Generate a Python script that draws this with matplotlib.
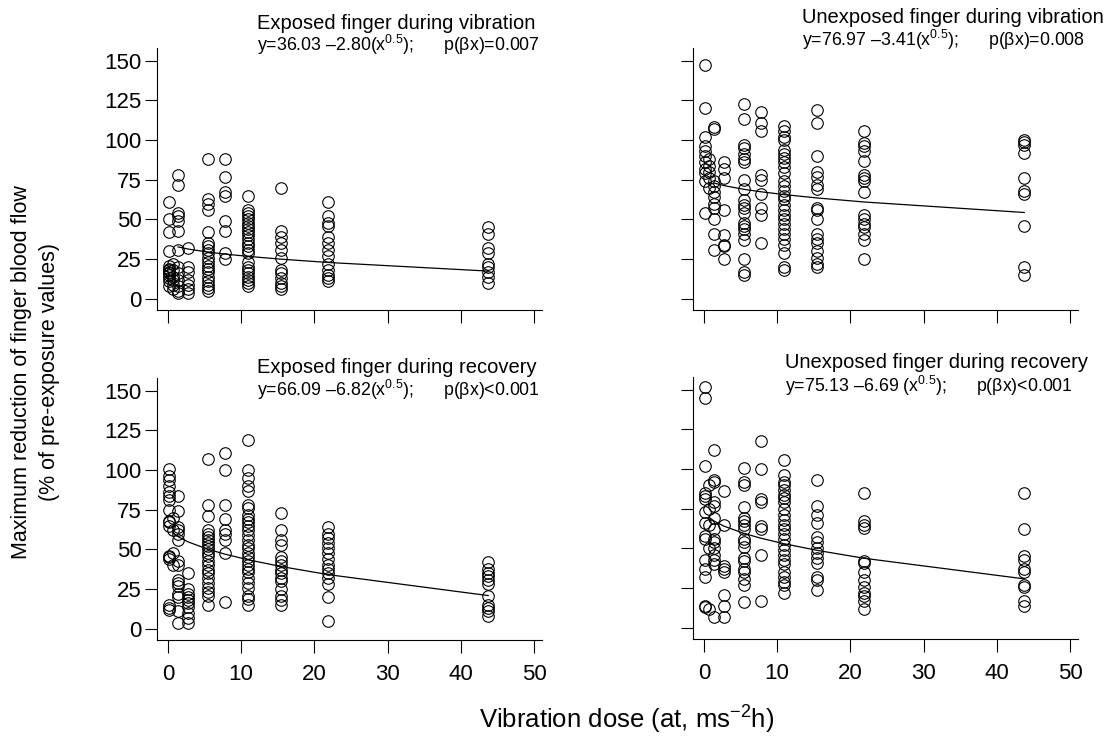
import matplotlib
matplotlib.use("Agg")
import matplotlib.pyplot as plt
import numpy as np

plt.rcParams['font.family'] = ['Liberation Sans', 'DejaVu Sans']
plt.rcParams['mathtext.fontset'] = 'custom'
plt.rcParams['mathtext.rm'] = 'Liberation Sans'
plt.rcParams['mathtext.it'] = 'Liberation Sans:italic'

# Dose levels (at, ms-2 h)
doses = [0.2, 0.68, 1.37, 2.74, 5.47, 7.74, 10.94, 15.47, 21.88, 43.75]

# Max reduction of finger blood flow (%) per dose level
exp_vib = [
    [61, 50, 42, 30, 21, 19, 18, 17, 16, 15, 13, 11, 8],
    [22, 18, 14, 12, 9, 6],
    [78, 72, 54, 52, 49, 43, 31, 20, 16, 12, 8, 5, 4],
    [32, 20, 17, 12, 9, 6, 4],
    [88, 63, 60, 56, 42, 35, 33, 31, 29, 26, 23, 21, 19, 17, 14, 11, 9, 7, 5],
    [88, 77, 67, 65, 49, 43, 29, 25],
    [65, 56, 54, 52, 50, 48, 46, 44, 42, 40, 38, 35, 33, 31, 29, 23, 20, 18, 16, 14, 12, 10, 8],
    [70, 43, 39, 35, 31, 26, 18, 16, 13, 10, 8, 6],
    [61, 52, 48, 46, 39, 35, 31, 27, 22, 18, 15, 13, 11],
    [45, 41, 32, 29, 22, 20, 17, 14, 10],
]
unexp_vib = [
    [147, 120, 102, 96, 93, 90, 86, 82, 79, 74, 54],
    [88, 84, 80, 76, 70],
    [108, 107, 74, 71, 67, 64, 60, 57, 50, 41, 31],
    [86, 82, 76, 56, 40, 34, 33, 25],
    [123, 113, 97, 95, 91, 88, 86, 75, 69, 62, 59, 57, 54, 48, 46, 44, 41, 37, 25, 17, 15],
    [118, 111, 106, 78, 75, 66, 57, 53, 35],
    [109, 106, 102, 100, 94, 91, 89, 86, 83, 79, 74, 71, 68, 65, 63, 59, 56, 53, 50, 47, 44, 41, 38, 34, 29, 20, 18],
    [119, 111, 90, 80, 77, 72, 69, 57, 56, 50, 41, 38, 35, 30, 26, 22, 20],
    [106, 98, 96, 93, 87, 78, 76, 74, 67, 53, 50, 47, 45, 41, 37, 25],
    [100, 99, 97, 92, 76, 68, 66, 46, 20, 15],
]
exp_rec = [
    [101, 96, 94, 90, 86, 84, 81, 75, 68, 67, 65, 46, 45, 44, 15, 13, 12],
    [70, 62, 48, 40],
    [84, 74, 64, 62, 60, 56, 43, 40, 31, 29, 27, 22, 20, 11, 4],
    [35, 25, 22, 20, 18, 16, 14, 10, 7, 4],
    [107, 78, 71, 62, 60, 58, 56, 54, 52, 50, 48, 46, 43, 40, 37, 35, 32, 29, 26, 23, 21, 15],
    [111, 100, 78, 69, 62, 60, 56, 48, 17],
    [119, 100, 95, 90, 87, 78, 76, 72, 69, 67, 65, 62, 59, 56, 53, 51, 48, 45, 43, 40, 38, 36, 32, 29, 26, 21, 19, 15],
    [73, 62, 56, 53, 45, 43, 40, 37, 35, 32, 30, 25, 21, 18, 15],
    [64, 60, 57, 54, 51, 48, 44, 40, 38, 35, 32, 28, 20, 5],
    [42, 38, 35, 33, 31, 28, 21, 15, 13, 11, 8],
]
unexp_rec = [
    [152, 145, 102, 85, 83, 81, 73, 66, 58, 56, 43, 37, 32, 14, 13],
    [90, 75, 65, 50, 12],
    [112, 93, 92, 79, 77, 69, 62, 56, 54, 50, 46, 43, 40, 7],
    [86, 65, 39, 37, 35, 21, 14, 7],
    [101, 92, 90, 76, 69, 67, 65, 62, 56, 54, 51, 44, 42, 37, 35, 31, 27, 16],
    [118, 100, 81, 79, 64, 62, 46, 17],
    [106, 96, 92, 90, 87, 84, 82, 79, 75, 71, 68, 65, 62, 59, 56, 52, 49, 46, 43, 40, 35, 32, 29, 27, 22],
    [93, 77, 71, 66, 57, 54, 50, 47, 44, 41, 32, 30, 24],
    [85, 67, 65, 63, 42, 41, 35, 30, 26, 22, 20, 17, 12],
    [85, 62, 45, 43, 37, 35, 27, 26, 17, 14],
]

titles = ['Exposed finger during vibration', 'Unexposed finger during vibration',
          'Exposed finger during recovery', 'Unexposed finger during recovery']
intercepts = [36.03, 76.97, 66.09, 75.13]
slopes = [-2.80, -3.41, -6.82, -6.69]
pvals = ['=0.007', '=0.008', '<0.001', '<0.001']
eq_gap = ['', '', '', ' ']
fit_start = [1.37, 1.37, 0.68, 0.68]

W, H = 1112, 745
# panel boxes in pixels: left, top, right, bottom
boxes = [(157, 48, 542, 310), (693, 48, 1078, 310),
         (157, 378, 542, 640), (693, 377, 1078, 639)]
# text anchors: left x, title baseline, equation baseline
anchors = [(257, 29, 51), (802, 23, 46), (257, 373, 396), (785, 368, 392)]

fig = plt.figure(figsize=(W / 100, H / 100), dpi=100)

panels = [exp_vib, unexp_vib, exp_rec, unexp_rec]
for i, groups in enumerate(panels):
    l, t, r, b = boxes[i]
    ax = fig.add_axes([l / W, 1 - b / H, (r - l) / W, (b - t) / H])
    for d, vals in zip(doses, groups):
        ax.plot([d] * len(vals), vals, 'o', mfc='none', mec='black', ms=8.3, mew=0.8)

    xf = np.array([d for d in doses if d >= fit_start[i]])
    ax.plot(xf, intercepts[i] + slopes[i] * np.sqrt(xf), color='black', lw=0.9)

    ax.set_xlim(-1.5, 51.1)
    ax.set_ylim(-7, 158)
    ax.set_xticks(np.arange(0, 51, 10))
    ax.set_yticks(np.arange(0, 151, 25))
    for s in ['top', 'right']:
        ax.spines[s].set_visible(False)
    for s in ['left', 'bottom']:
        ax.spines[s].set_linewidth(0.8)
    ax.tick_params(axis='both', direction='out', length=9, width=0.8, labelsize=16)
    ax.tick_params(axis='x', pad=8)
    ax.tick_params(axis='y', pad=2)
    if i in (0, 1):
        ax.tick_params(axis='x', labelbottom=False)
    if i in (1, 3):
        ax.tick_params(axis='y', labelleft=False)

    tx, tb, eb = anchors[i]
    fig.text(tx / W, 1 - tb / H, titles[i], fontsize=14.5, ha='left', va='baseline')
    eq = ('y=%.2f \u2013%.2f%s($\\mathrm{x}^{0.5}$);      p(\u03b2x)%s'
          % (intercepts[i], -slopes[i], eq_gap[i], pvals[i]))
    fig.text(tx / W, 1 - eb / H, eq, fontsize=12.8, ha='left', va='baseline')

fig.text(22 / W, 1 - 372 / H, 'Maximum reduction of finger blood flow',
         rotation=90, fontsize=15.5, ha='center', va='center')
fig.text(50 / W, 1 - 372 / H, '(% of pre-exposure values)',
         rotation=90, fontsize=15.5, ha='center', va='center')
fig.text(627 / W, 1 - 720 / H, 'Vibration dose (at, ms$^{-2}$h)',
         fontsize=18.5, ha='center', va='center')

fig.savefig('out.png', dpi=100)
